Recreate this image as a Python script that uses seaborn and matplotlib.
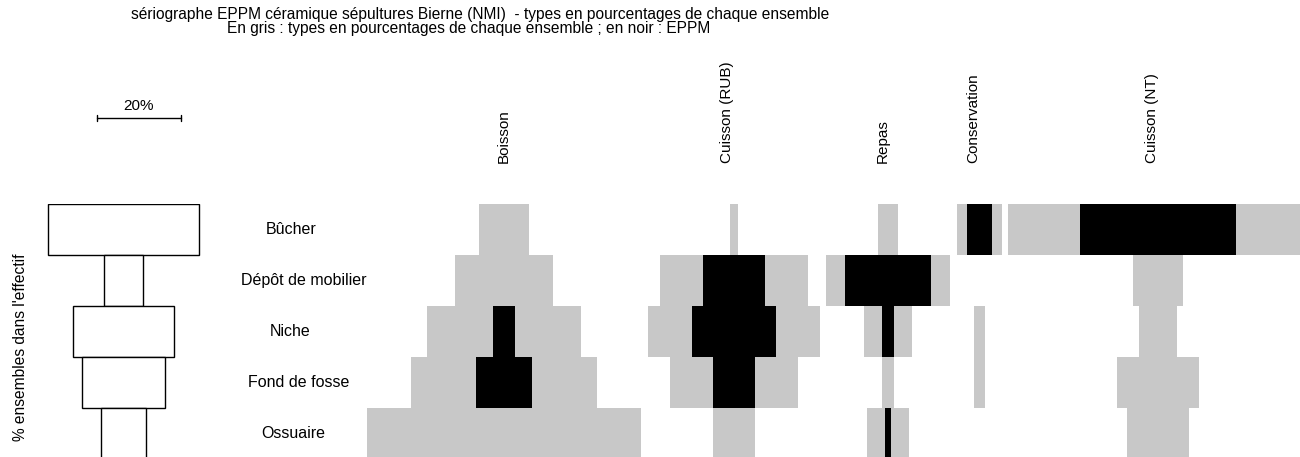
import numpy as np
import pandas as pd
import matplotlib
matplotlib.use("Agg")
import matplotlib.pyplot as plt
import seaborn as sns

# ---------------- data ----------------
ensembles = ["Bûcher", "Dépôt de mobilier", "Niche", "Fond de fosse", "Ossuaire"]
types = ["Boisson", "Cuisson (RUB)", "Repas", "Conservation", "Cuisson (NT)"]

# % of each ensemble in the total count (effectif)
effectif_pct = [36.0, 9.3, 23.9, 19.5, 10.8]

# grey: percentage of each type within each ensemble (rows = ensembles)
pct_boisson = [12.0, 23.4, 36.3, 44.3, 65.0]
pct_cuisson_rub = [1.7, 35.3, 40.8, 30.6, 10.0]
pct_repas = [4.7, 29.4, 11.4, 2.8, 10.0]
pct_conservation = [10.7, 0.0, 2.4, 2.8, 0.0]
pct_cuisson_nt = [71.0, 11.9, 9.2, 19.4, 14.9]

# black: EPPM (positive deviation from the weighted mean)
eppm_boisson = [0.0, 0.0, 5.2, 13.3, 0.0]
eppm_cuisson_rub = [0.0, 14.7, 20.1, 10.0, 0.0]
eppm_repas = [0.0, 20.6, 2.8, 0.0, 1.4]
eppm_conservation = [5.7, 0.0, 0.0, 0.0, 0.0]
eppm_cuisson_nt = [36.8, 0.0, 0.0, 0.0, 0.0]

title_1 = "sériographe EPPM céramique sépultures Bierne (NMI)  - types en pourcentages de chaque ensemble"
title_2 = "En gris : types en pourcentages de chaque ensemble ; en noir : EPPM"
scale_label = "20%"
scale_value = 20.0
ylabel = "% ensembles dans l'effectif"

pct_all = [pct_boisson, pct_cuisson_rub, pct_repas, pct_conservation, pct_cuisson_nt]
eppm_all = [eppm_boisson, eppm_cuisson_rub, eppm_repas, eppm_conservation, eppm_cuisson_nt]

# ---------------- layout ----------------
W, H = 1300, 457
PX_PER_PCT = 4.215
ROW_H = 51.0
TOP_ROW = 204.0
col_centers = [504, 734, 888, 979.5, 1158]
col_label_x = [504, 727, 883, 973, 1152]
row_label_x = [291, 304, 290, 299, 293.5]
eff_center = 123.5
half_px = 165.0
GREY = "#c8c8c8"
FONT = ["Liberation Sans", "DejaVu Sans"]

sns.set_theme(style="white")
plt.rcParams["font.family"] = FONT
plt.rcParams["text.color"] = "black"

fig = plt.figure(figsize=(W / 100, H / 100), dpi=100)
fig.patch.set_facecolor("white")

ax_bottom = 0.0
ax_height = (H - TOP_ROW) / H
y_bottom_lim = -0.5 + (H - TOP_ROW) / ROW_H


def center_patches(ax):
    for p in ax.patches:
        p.set_x(-p.get_width() / 2.0)


def make_axes(cx):
    ax = fig.add_axes([(cx - half_px) / W, ax_bottom, 2 * half_px / W, ax_height])
    ax.set_facecolor("none")
    return ax


# effectif column
ax = make_axes(eff_center)
df_eff = pd.DataFrame({"ens": ensembles, "v": effectif_pct})
sns.barplot(data=df_eff, x="v", y="ens", order=ensembles, color="white",
            edgecolor="black", linewidth=1.0, width=1.0, saturation=1,
            errorbar=None, ax=ax, orient="h")
center_patches(ax)
ax.set_xlim(-half_px / PX_PER_PCT, half_px / PX_PER_PCT)
ax.set_ylim(y_bottom_lim, -0.5)
ax.set_axis_off()

# type columns
for t, cx, g, b in zip(types, col_centers, pct_all, eppm_all):
    ax = make_axes(cx)
    df = pd.DataFrame({"ens": ensembles, "g": g, "b": b})
    sns.barplot(data=df, x="g", y="ens", order=ensembles, color=GREY,
                linewidth=0, width=1.0, saturation=1, errorbar=None, ax=ax, orient="h")
    sns.barplot(data=df, x="b", y="ens", order=ensembles, color="black",
                linewidth=0, width=1.0, saturation=1, errorbar=None, ax=ax, orient="h")
    center_patches(ax)
    ax.set_xlim(-half_px / PX_PER_PCT, half_px / PX_PER_PCT)
    ax.set_ylim(y_bottom_lim, -0.5)
    ax.set_axis_off()

# annotation layer in pixel coordinates
ann = fig.add_axes([0, 0, 1, 1])
ann.set_xlim(0, W)
ann.set_ylim(H, 0)
ann.set_axis_off()
ann.set_facecolor("none")

ann.text(480, 14, title_1, ha="center", va="center", fontsize=11.2, color="black")
ann.text(469, 28, title_2, ha="center", va="center", fontsize=11.2, color="black")

# scale bar
x0 = 96.7
x1 = x0 + scale_value * PX_PER_PCT
ann.plot([x0, x1], [118, 118], color="black", lw=1.0)
ann.plot([x0, x0], [115, 121], color="black", lw=1.0)
ann.plot([x1, x1], [115, 121], color="black", lw=1.0)
ann.text((x0 + x1) / 2, 106, scale_label, ha="center", va="center", fontsize=11, color="black")

# y label
ann.text(21, 347, ylabel, rotation=90, ha="center", va="center", fontsize=11.2, color="black")

# row labels
for i, e in enumerate(ensembles):
    ann.text(row_label_x[i], TOP_ROW + ROW_H * (i + 0.5), e, ha="center", va="center",
             fontsize=11.5, color="black")

# column labels
for t, lx in zip(types, col_label_x):
    ann.text(lx, 163, t, rotation=90, ha="center", va="bottom", fontsize=11, color="black")

fig.savefig("out.png", dpi=100, facecolor="white")
